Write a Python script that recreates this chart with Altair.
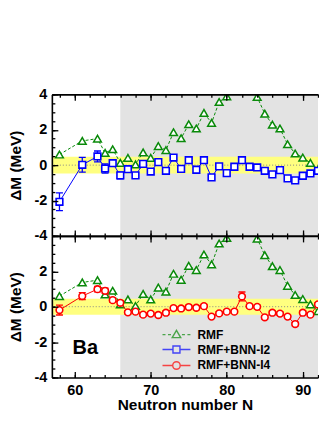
import altair as alt
import pandas as pd

# ---------------- data ----------------
N = [58, 61, 63, 64, 65, 66, 67, 68, 69, 70, 71, 72, 73, 74, 75, 76,
     77, 78, 79, 80, 81, 82, 83, 84, 85, 86, 87, 88, 89, 90, 91, 92]
RMF = [0.60, 1.37, 1.50, 0.69, 0.90, 0.13, 0.41, 0.04, 0.72, 0.41, 1.08, 0.85,
       1.86, 1.52, 2.31, 2.07, 2.95, 2.39, 3.57, 3.89, 4.40, 4.70, 4.30, 3.85,
       2.91, 2.29, 2.07, 1.18, 0.66, 0.43, 0.13, -0.25]
BNN_I2 = [-2.07, 0.02, 0.49, -0.19, 0.11, -0.58, -0.23, -0.58, 0.07, -0.36, 0.17, -0.32,
          0.43, -0.21, 0.28, -0.26, 0.28, -0.69, -0.07, -0.45, -0.09, 0.28, -0.09, -0.13,
          -0.32, -0.52, -0.28, -0.75, -0.86, -0.60, -0.47, -0.32]
BNN_I2_ERR = [0.50, 0.42, 0.31, 0.26, 0.18, 0.19, 0.15, 0.15, 0.15, 0.15, 0.15, 0.15,
              0.15, 0.15, 0.15, 0.15, 0.15, 0.15, 0.15, 0.15, 0.15, 0.15, 0.15, 0.15,
              0.15, 0.15, 0.15, 0.15, 0.15, 0.15, 0.15, 0.15]
BNN_I4 = [-0.19, 0.60, 0.99, 0.90, 0.37, 0.22, -0.32, -0.28, -0.45, -0.39, -0.47, -0.34,
          -0.08, -0.10, -0.02, -0.06, 0.03, -0.56, -0.38, -0.28, -0.28, 0.58, 0.03, -0.01,
          -0.60, -0.34, -0.39, -0.56, -0.98, -0.34, -0.45, 0.13]
BNN_I4_ERR = [0.28, 0.20, 0.15, 0.15, 0.12, 0.12, 0.10, 0.10, 0.10, 0.10, 0.10, 0.10,
              0.10, 0.10, 0.10, 0.10, 0.10, 0.10, 0.10, 0.10, 0.10, 0.25, 0.10, 0.10,
              0.10, 0.10, 0.10, 0.10, 0.10, 0.10, 0.10, 0.10]
SERIES = ["RMF", "RMF+BNN-I2", "RMF+BNN-I4"]
ELEMENT = "Ba"
ELEMENT_POS = [61.4, -2.35]
SHADED_N = [66, 92]
BAND_HALF = [0.47, 0.45]
X_DOMAIN = [57, 92]
Y_DOMAIN = [-4, 4]
X_MAJOR = [60, 70, 80, 90]
X_MINOR = [58, 60, 62, 64, 66, 68, 70, 72, 74, 76, 78, 80, 82, 84, 86, 88, 90, 92]
Y_MAJOR = [-4, -2, 0, 2, 4]
Y_MINOR = [-4, -3.5, -3, -2.5, -2, -1.5, -1, -0.5, 0, 0.5, 1, 1.5, 2, 2.5, 3, 3.5, 4]
Y_LABELS_TOP = [-4, -2, 0, 2, 4]
Y_LABELS_BOTTOM = [-4, -2, 0, 2]
X_TITLE = "Neutron number N"
Y_TITLE = "ΔM (MeV)"

# ---------------- style ----------------
W, H = 267, 142
FONT = "Liberation Sans"
GREEN = "#0a8a0a"
BLUE = "#0000ff"
RED = "#ff0000"
GRAY = "#e3e3e3"
YELLOW = "#ffff80"

LEGEND_PATHS = [
    "M-2.8,0L-2.2,0M-1.7,0L-1.1,0M1.1,0L1.7,0M2.2,0L2.8,0M0,-0.85L0.85,0.6L-0.85,0.6Z",
    "M-2.8,0L-0.7,0M0.7,0L2.8,0M-0.7,-0.7L0.7,-0.7L0.7,0.7L-0.7,0.7Z",
    "M-2.8,0L-0.75,0M0.75,0L2.8,0M-0.75,0A0.75,0.75,0,1,0,0.75,0A0.75,0.75,0,1,0,-0.75,0Z",
]

XS = alt.Scale(domain=X_DOMAIN, nice=False, zero=False)
YS = alt.Scale(domain=Y_DOMAIN, nice=False, zero=False)


def tick_axis(orient, offset, values, size, domain):
    return alt.Axis(orient=orient, offset=offset, values=values, tickSize=size,
                    labels=False, domain=domain, title=None, ticks=True,
                    tickColor="black", tickWidth=1.3, domainColor="black",
                    domainWidth=1.6, zindex=2, grid=False)


def panel(bnn, err, color, shape, band, is_top):
    df = pd.DataFrame({
        "N": N, "rmf": RMF, "bnn": bnn,
        "lo": [v - e for v, e in zip(bnn, err)],
        "hi": [v + e for v, e in zip(bnn, err)],
    })
    y_labels = Y_LABELS_TOP if is_top else Y_LABELS_BOTTOM
    y_label_axis = alt.Axis(orient="left", values=y_labels, ticks=False, domain=False,
                            labelPadding=5, title=Y_TITLE, titlePadding=11,
                            labelExpr="'' + datum.value", grid=False)
    if is_top:
        x_label_axis = None
    else:
        x_label_axis = alt.Axis(orient="bottom", values=X_MAJOR, ticks=False, domain=False,
                                labelPadding=6, title=X_TITLE, titlePadding=1, grid=False)

    gray_df = pd.DataFrame({"x0": [SHADED_N[0]], "x1": [SHADED_N[1]],
                            "y0": [Y_DOMAIN[0]], "y1": [Y_DOMAIN[1]]})
    gray = alt.Chart(gray_df).mark_rect(color=GRAY).encode(
        x=alt.X("x0:Q", scale=XS, axis=x_label_axis, title=X_TITLE if not is_top else None),
        x2="x1:Q",
        y=alt.Y("y0:Q", scale=YS, axis=y_label_axis, title=Y_TITLE),
        y2="y1:Q",
    )

    band_df = pd.DataFrame({"x0": [X_DOMAIN[0]], "x1": [X_DOMAIN[1]],
                            "y0": [-band], "y1": [band]})
    yellow = alt.Chart(band_df).mark_rect(color=YELLOW).encode(
        x=alt.X("x0:Q", scale=XS, axis=tick_axis("top", -H, X_MAJOR, 6, True)),
        x2="x1:Q",
        y=alt.Y("y0:Q", scale=YS, axis=tick_axis("right", -W, Y_MAJOR, 6, True)),
        y2="y1:Q",
    )

    zero = alt.Chart(band_df).mark_rule(color="#888888", strokeDash=[1, 2], strokeWidth=1).encode(
        y=alt.Y(datum=0, scale=YS, axis=None),
    )

    rmf_line = alt.Chart(df).mark_line(color=GREEN, strokeDash=[3, 2], strokeWidth=1, clip=True).encode(
        x=alt.X("N:Q", scale=XS, axis=tick_axis("top", -H, X_MINOR, 3, False)),
        y=alt.Y("rmf:Q", scale=YS, axis=tick_axis("right", -W, Y_MINOR, 3, False)),
    )
    rmf_pts = alt.Chart(df).mark_point(shape="triangle-up", filled=True, fill="white",
                                       stroke=GREEN, strokeWidth=1.5, size=60,
                                       opacity=1, clip=True).encode(
        x=alt.X("N:Q", scale=XS, axis=tick_axis("bottom", -H, X_MAJOR, 6, True)),
        y=alt.Y("rmf:Q", scale=YS, axis=None),
    )
    bnn_line = alt.Chart(df).mark_line(color=color, strokeWidth=1, clip=True).encode(
        x=alt.X("N:Q", scale=XS, axis=tick_axis("bottom", -H, X_MINOR, 3, False)),
        y=alt.Y("bnn:Q", scale=YS, axis=None),
    )
    err_rule = alt.Chart(df).mark_rule(color=color, strokeWidth=1.3, clip=True).encode(
        x=alt.X("N:Q", scale=XS, axis=None),
        y=alt.Y("lo:Q", scale=YS, axis=None),
        y2="hi:Q",
    )
    err_lo = alt.Chart(df).mark_tick(color=color, orient="horizontal", size=7,
                                     thickness=1.3, opacity=1, clip=True).encode(
        x=alt.X("N:Q", scale=XS, axis=None),
        y=alt.Y("lo:Q", scale=YS, axis=None),
    )
    err_hi = alt.Chart(df).mark_tick(color=color, orient="horizontal", size=7,
                                     thickness=1.3, opacity=1, clip=True).encode(
        x=alt.X("N:Q", scale=XS, axis=None),
        y=alt.Y("hi:Q", scale=YS, axis=None),
    )
    bnn_pts = alt.Chart(df).mark_point(shape=shape, filled=True, fill="white", stroke=color,
                                       strokeWidth=1.6, size=45, opacity=1, clip=True).encode(
        x=alt.X("N:Q", scale=XS, axis=None),
        y=alt.Y("bnn:Q", scale=YS, axis=None),
    )
    layers = [gray, yellow, zero, rmf_line, rmf_pts, bnn_line, err_rule, err_lo, err_hi, bnn_pts]

    if not is_top:
        label = alt.Chart(band_df).mark_text(text=ELEMENT, font=FONT, fontSize=20,
                                             fontWeight="bold", color="black").encode(
            x=alt.X(datum=ELEMENT_POS[0], scale=XS, axis=None),
            y=alt.Y(datum=ELEMENT_POS[1], scale=YS, axis=None),
        )
        leg = alt.Legend(orient="none", legendX=119, legendY=93, title=None, direction="vertical",
                         labelFont=FONT, labelFontWeight="bold", labelFontSize=12,
                         labelColor="black", symbolSize=100, symbolStrokeWidth=1.4,
                         labelOffset=15, rowPadding=2, padding=0, symbolOffset=0)
        leg_df = pd.DataFrame({"series": SERIES, "N": [0, 0, 0], "v": [0, 0, 0]})
        legend_layer = alt.Chart(leg_df).mark_point(filled=False, clip=True).encode(
            x=alt.X("N:Q", scale=XS, axis=None),
            y=alt.Y("v:Q", scale=YS, axis=None),
            color=alt.Color("series:N", scale=alt.Scale(domain=SERIES, range=[GREEN, BLUE, RED]),
                            legend=leg),
            shape=alt.Shape("series:N", scale=alt.Scale(domain=SERIES, range=LEGEND_PATHS),
                            legend=leg),
        )
        layers += [label, legend_layer]

    return alt.layer(*layers).resolve_axis(x="independent", y="independent").properties(
        width=W, height=H)


top = panel(BNN_I2, BNN_I2_ERR, BLUE, "square", BAND_HALF[0], True)
bottom = panel(BNN_I4, BNN_I4_ERR, RED, "circle", BAND_HALF[1], False)

chart = alt.vconcat(top, bottom, spacing=0, bounds="flush").resolve_scale(
    color="independent", shape="independent"
).properties(
    padding={"left": 0, "top": 78, "right": 0, "bottom": 0}
).configure_view(stroke=None).configure_axis(
    grid=False, labelFont=FONT, labelFontWeight="bold", labelFontSize=14.5, labelColor="black",
    titleFont=FONT, titleFontWeight="bold", titleFontSize=15.5, titleColor="black",
)

chart.save("out.html", embed_options={"renderer": "svg", "actions": False})
